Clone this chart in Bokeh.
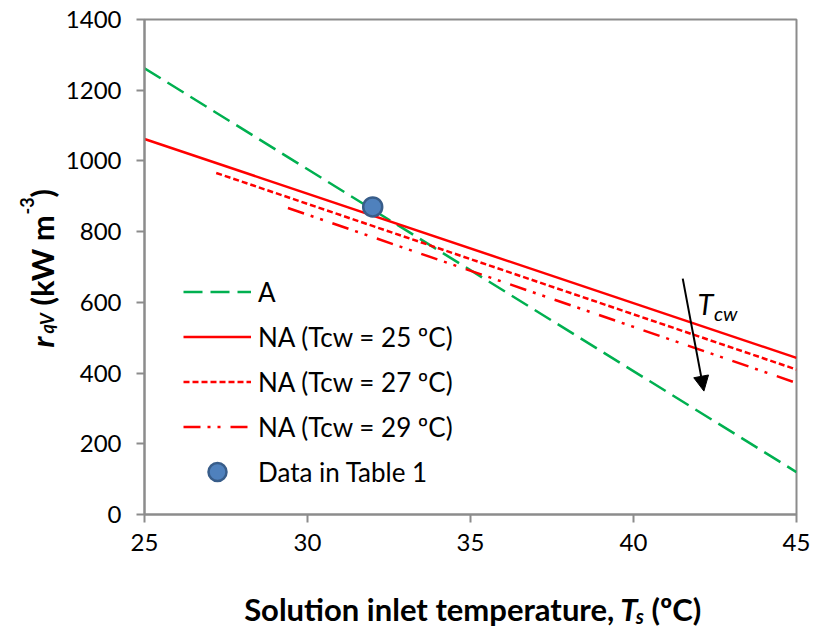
import math
from bokeh.plotting import figure
from bokeh.layouts import row, column
from bokeh.models import Legend, LegendItem, Arrow, NormalHead, FixedTicker, Label
from bokeh.core.properties import value
from bokeh.embed import file_html
from bokeh.resources import INLINE

# ---- data ----
a_x = [25, 45]
a_y = [1262, 120]
na25_x = [25, 45]
na25_y = [1062, 443]
na27_x = [27.2, 45]
na27_y = [966, 410]
na29_x = [29.4, 45]
na29_y = [867, 372]
table_x = [32]
table_y = [870]
x_ticks = [25, 30, 35, 40, 45]
y_ticks = [0, 200, 400, 600, 800, 1000, 1200, 1400]
series_names = ["A", "NA (Tcw = 25 ºC)", "NA (Tcw = 27 ºC)", "NA (Tcw = 29 ºC)", "Data in Table 1"]
arrow_start = (41.51, 667)
arrow_end = (42.16, 349)

FONT = "Lato"
GREY = "#8c8c8c"
W, H = 815, 629
YL_W = 60          # width of the y-label strip
XL_H = 59          # height of the x-label strip

p = figure(width=W - YL_W, height=H - XL_H, x_range=(25, 45), y_range=(0, 1400),
           output_backend="svg", toolbar_location=None,
           min_border_left=144 - YL_W, min_border_right=19, min_border_top=19,
           min_border_bottom=H - XL_H - 514)
p.grid.visible = False
p.background_fill_color = "white"
p.border_fill_color = "white"
p.outline_line_color = GREY
p.outline_line_width = 2

for ax in (p.xaxis, p.yaxis):
    ax.axis_line_color = GREY
    ax.axis_line_width = 2
    ax.major_tick_line_color = GREY
    ax.major_tick_line_width = 2
    ax.major_tick_out = 8
    ax.major_tick_in = 0
    ax.minor_tick_line_color = None
    ax.major_label_text_font = FONT
    ax.major_label_text_font_size = "24px"
    ax.major_label_text_color = "black"
p.xaxis.ticker = FixedTicker(ticks=x_ticks)
p.yaxis.ticker = FixedTicker(ticks=y_ticks)
p.xaxis.major_label_standoff = 11
p.yaxis.major_label_standoff = 15

r_a = p.line(a_x, a_y, line_color="#00B050", line_width=2.5, line_dash="19 8")
r_25 = p.line(na25_x, na25_y, line_color="#FF0000", line_width=2.5)
r_27 = p.line(na27_x, na27_y, line_color="#FF0000", line_width=2.5, line_dash="6 3")
r_29 = p.line(na29_x, na29_y, line_color="#FF0000", line_width=2.5, line_dash="17 7 3 7 3 10")
r_pt = p.scatter(table_x, table_y, size=19, fill_color="#4F81BD", line_color="#385D8A", line_width=2.5)

legend = Legend(items=[LegendItem(label=series_names[0], renderers=[r_a]),
                       LegendItem(label=series_names[1], renderers=[r_25]),
                       LegendItem(label=series_names[2], renderers=[r_27]),
                       LegendItem(label=series_names[3], renderers=[r_29]),
                       LegendItem(label=series_names[4], renderers=[r_pt])],
                location=(39, 20), padding=0, margin=0, spacing=0,
                glyph_width=68, glyph_height=45, label_height=45,
                label_standoff=7, border_line_color=None,
                background_fill_alpha=0,
                label_text_font=FONT, label_text_font_size="26px",
                label_text_color="black")
p.add_layout(legend)

p.add_layout(Arrow(end=NormalHead(size=15, fill_color="black", line_color="black"),
                   x_start=arrow_start[0], y_start=arrow_start[1],
                   x_end=arrow_end[0], y_end=arrow_end[1],
                   line_color="black", line_width=2))

def lab(x, y, t, size, style="normal"):
    p.add_layout(Label(x=x, y=y, text=t, text_font=FONT, text_font_size=size,
                       text_font_style=style, text_align="left",
                       text_baseline="alphabetic", text_color="black"))

# T_cw annotation
lab(41.96, 597, "T", "29px", "italic")
lab(42.47, 571, "cw", "20px", "italic")


def strip(w, h):
    f = figure(width=w, height=h, x_range=(0, w), y_range=(0, h),
               output_backend="svg", toolbar_location=None,
               x_axis_type=None, y_axis_type=None, min_border=0)
    f.grid.visible = False
    f.outline_line_color = None
    f.background_fill_color = "white"
    f.border_fill_color = "white"
    return f


def txt(f, gx, gy, ox, t, size, style="bold", align="left", angle=0.0):
    # gx, gy: pixel position in the whole picture (from top-left)
    f.text(x=[gx - ox], y=[H - gy], text=[t], text_font=value(FONT),
           text_font_size=value(size), text_font_style=value(style),
           text_align=value(align), text_baseline=value("alphabetic"),
           angle=angle, text_color="black")


# x-axis label strip
px = strip(W - YL_W, XL_H)
txt(px, 604, 608, YL_W, "Solution inlet temperature,", "31px", "bold", align="right")
txt(px, 611, 608, YL_W, "T", "31px", "bold italic")
txt(px, 629, 615, YL_W, "s", "20px", "bold italic")
txt(px, 647, 608, YL_W, "(ºC)", "31px", "bold")

# y-axis label strip (rotated text)
pl = strip(YL_W, H)
R = math.pi / 2
txt(pl, 41, 347, 0, "r", "31px", "bold italic", angle=R)
txt(pl, 46, 333, 0, "qV", "18px", "bold italic", angle=R)
txt(pl, 41, 305, 0, "(kW m", "31px", "bold", angle=R)
txt(pl, 26, 214, 0, "-3", "18px", "bold", angle=R)
txt(pl, 41, 197, 0, ")", "31px", "bold", angle=R)

layout = row(pl, column(p, px, spacing=0), spacing=0)
open("out.html", "w").write(file_html(layout, INLINE))
